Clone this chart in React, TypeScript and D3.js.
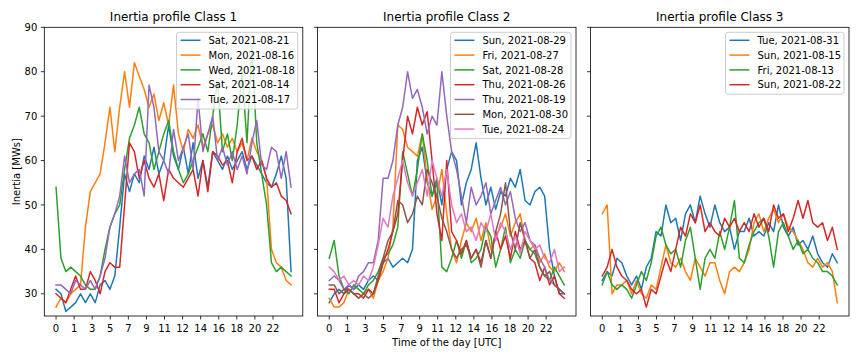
import React, { useEffect, useRef } from "react";
import * as d3 from "d3";

// sample times (hours of the day), one sample every half hour
const HOURS: number[] = d3.range(0, 24.001, 0.5);

// x tick labels (ticks are evenly spaced, 13 intervals over the day)
const TICK_LABELS = ["0", "1", "3", "5", "7", "9", "11", "12", "14", "16", "18", "20", "22"];
const Y_TICKS = [30, 40, 50, 60, 70, 80, 90];

const TITLES = ["Inertia profile Class 1", "Inertia profile Class 2", "Inertia profile Class 3"];

// ---- Class 1 ----
const c1Sat0821 = [31,30,26,27,28,30,28,30,28,32,33,31,34,45,57,53,57,55,61,58,63,57,60,68,61,58,63,57,64,56,60,54,62,60,58,61,58,60,62,58,61,59,57,55,54,57,61,56,35];
const c1Mon0816 = [27,29,28,30,31,32,45,53,55,57,64,72,62,72,80,72,82,79,76,72,75,69,73,68,77,66,62,67,65,68,63,66,68,64,66,63,65,62,64,60,65,62,60,56,40,37,36,33,32];
const c1Wed0818 = [54,38,35,36,35,34,32,31,31,34,40,45,48,50,58,65,68,72,66,64,58,62,66,69,62,58,55,57,60,63,66,62,70,78,62,66,60,68,80,64,86,64,57,50,37,35,36,35,34];
const c1Sat0814 = [30,29,28,31,34,31,31,35,33,30,35,37,36,36,50,64,62,56,60,56,54,57,51,58,56,55,54,56,58,52,60,53,62,61,59,60,55,62,65,60,61,58,60,56,54,55,52,51,48];
const c1Tue0817 = [32,32,31,30,33,32,31,33,31,34,38,45,48,52,61,55,57,58,52,77,72,62,60,57,67,60,63,66,58,74,62,66,70,60,63,59,62,58,61,57,64,69,59,58,63,62,56,62,54];

// ---- Class 2 ----
const c2Sun0829 = [28,30,31,30,32,31,32,31,33,34,33,37,38,36,37,38,37,40,60,63,55,52,56,50,58,62,60,50,55,58,64,56,50,54,49,53,52,56,54,58,51,50,53,54,52,40,34,30,30];
const c2Fri0827 = [29,27,27,28,31,30,29,30,31,29,33,35,38,45,68,67,63,62,61,66,56,49,52,58,48,40,37,42,46,44,47,42,46,40,43,45,48,43,46,48,42,40,41,37,39,36,35,37,35];
const c2Sat0828 = [38,42,34,31,30,32,31,30,32,33,35,38,39,41,45,62,57,52,58,66,60,52,55,36,35,38,42,38,42,37,38,40,45,43,36,40,45,37,40,38,42,40,39,36,34,33,36,34,32];
const c2Thu0826 = [31,31,28,30,31,30,30,29,31,30,33,37,40,44,48,60,70,66,72,68,71,60,48,42,60,44,42,39,42,38,40,37,42,38,44,40,43,38,44,40,42,38,37,33,36,32,34,30,29];
const c2Thu0819 = [33,34,33,31,32,31,34,35,37,37,42,56,56,60,68,72,80,74,76,72,66,70,68,80,70,62,58,52,46,54,50,52,55,48,51,54,50,53,47,44,46,42,41,38,36,33,32,31,30];
const c2Mon0830 = [32,32,30,31,31,30,29,30,29,30,34,38,42,44,51,50,46,48,52,50,58,55,52,47,44,40,38,40,41,38,40,36,42,38,44,48,55,44,40,46,42,38,40,36,34,35,32,31,30];
const c2Tue0824 = [36,35,33,34,32,33,32,34,33,36,41,47,45,52,56,60,55,52,55,58,52,60,56,52,58,50,46,48,44,45,42,46,44,48,42,46,44,40,43,39,44,42,40,41,38,37,40,35,36];

// ---- Class 3 ----
const c3Tue0831 = [33,35,34,38,37,34,32,34,31,36,38,44,43,50,46,47,42,48,50,46,52,48,45,50,46,44,45,40,44,44,47,43,44,43,46,44,50,45,43,45,41,42,40,43,39,37,36,39,37];
const c3Sun0815 = [48,50,30,32,32,33,30,33,30,29,32,31,36,41,37,36,38,35,33,38,36,34,37,37,33,30,35,36,35,37,40,46,48,44,47,49,46,48,45,44,42,40,37,36,38,36,37,35,28];
const c3Fri0813 = [32,35,32,31,32,31,29,32,35,33,37,43,45,41,39,40,36,42,45,38,31,38,40,38,44,40,45,51,38,37,41,44,46,47,43,36,44,46,43,40,42,39,40,38,37,35,35,34,32];
const c3Sun0822 = [34,36,40,36,34,33,31,30,31,27,31,30,34,38,35,40,45,43,48,46,50,44,46,44,43,47,45,47,44,46,44,48,45,47,44,50,47,48,44,47,51,47,51,46,45,46,42,45,40];

const CLASS1_LABELS = ["Sat, 2021-08-21", "Mon, 2021-08-16", "Wed, 2021-08-18", "Sat, 2021-08-14", "Tue, 2021-08-17"];
const CLASS2_LABELS = ["Sun, 2021-08-29", "Fri, 2021-08-27", "Sat, 2021-08-28", "Thu, 2021-08-26", "Thu, 2021-08-19", "Mon, 2021-08-30", "Tue, 2021-08-24"];
const CLASS3_LABELS = ["Tue, 2021-08-31", "Sun, 2021-08-15", "Fri, 2021-08-13", "Sun, 2021-08-22"];

const COLORS = ["#1f77b4", "#ff7f0e", "#2ca02c", "#d62728", "#9467bd", "#8c564b", "#e377c2"];

const PANELS = [
  { title: TITLES[0], labels: CLASS1_LABELS, series: [c1Sat0821, c1Mon0816, c1Wed0818, c1Sat0814, c1Tue0817] },
  { title: TITLES[1], labels: CLASS2_LABELS, series: [c2Sun0829, c2Fri0827, c2Sat0828, c2Thu0826, c2Thu0819, c2Mon0830, c2Tue0824] },
  { title: TITLES[2], labels: CLASS3_LABELS, series: [c3Tue0831, c3Sun0815, c3Fri0813, c3Sun0822] },
];

const W = 859;
const H = 358;
const TOP = 27.3;
const BOTTOM = 316;
const PANEL_LEFT = [44.3, 317.5, 590.5];
const PANEL_W = 258.5;
const FONT = "DejaVu Sans, sans-serif";

export default function App() {
  const ref = useRef<SVGSVGElement | null>(null);

  useEffect(() => {
    const svg = d3.select(ref.current);
    svg.selectAll("*").remove();
    svg.append("rect").attr("width", W).attr("height", H).attr("fill", "white");

    const y = d3.scaleLinear().domain([25, 90]).range([BOTTOM, TOP]);

    PANELS.forEach((panel, pi) => {
      const left = PANEL_LEFT[pi];
      const right = left + PANEL_W;
      const x = d3.scaleLinear().domain([-1.2, 25.2]).range([left, right]);
      const g = svg.append("g");

      // clip
      const clipId = `clip${pi}`;
      g.append("clipPath").attr("id", clipId)
        .append("rect").attr("x", left).attr("y", TOP).attr("width", PANEL_W).attr("height", BOTTOM - TOP);

      const line = d3.line<number>()
        .x((_, i) => x(HOURS[i]))
        .y((d) => y(d));

      const lines = g.append("g").attr("clip-path", `url(#${clipId})`);
      panel.series.forEach((s, si) => {
        lines.append("path")
          .attr("d", line(s) as string)
          .attr("fill", "none")
          .attr("stroke", COLORS[si])
          .attr("stroke-width", 1.5)
          .attr("stroke-linejoin", "round")
          .attr("stroke-linecap", "square");
      });

      // spines
      g.append("rect")
        .attr("x", left).attr("y", TOP)
        .attr("width", PANEL_W).attr("height", BOTTOM - TOP)
        .attr("fill", "none").attr("stroke", "black").attr("stroke-width", 0.8);

      // x ticks
      TICK_LABELS.forEach((lab, ti) => {
        const hx = x((ti * 24) / 13);
        g.append("line").attr("x1", hx).attr("x2", hx).attr("y1", BOTTOM).attr("y2", BOTTOM + 3.5)
          .attr("stroke", "black").attr("stroke-width", 0.8);
        g.append("text").attr("x", hx).attr("y", BOTTOM + 15.5)
          .attr("text-anchor", "middle").attr("font-family", FONT).attr("font-size", 10)
          .attr("fill", "black").text(lab);
      });

      // y ticks
      Y_TICKS.forEach((v) => {
        const yy = y(v);
        g.append("line").attr("x1", left - 3.5).attr("x2", left).attr("y1", yy).attr("y2", yy)
          .attr("stroke", "black").attr("stroke-width", 0.8);
        if (pi === 0) {
          g.append("text").attr("x", left - 7).attr("y", yy + 3.6)
            .attr("text-anchor", "end").attr("font-family", FONT).attr("font-size", 10)
            .attr("fill", "black").text(String(v));
        }
      });

      // title
      g.append("text").attr("x", left + PANEL_W / 2).attr("y", TOP - 6)
        .attr("text-anchor", "middle").attr("font-family", FONT).attr("font-size", 12)
        .attr("fill", "black").text(panel.title);

      // legend
      const n = panel.labels.length;
      const lg = g.append("g");
      const frame = lg.append("rect");
      const texts = panel.labels.map((lab, li) =>
        lg.append("text").attr("font-family", FONT).attr("font-size", 10).attr("fill", "black").text(lab)
      );
      const maxW = d3.max(texts, (t) => (t.node() as SVGTextElement).getComputedTextLength()) || 87;
      const boxW = 32 + maxW + 3;
      const boxRight = right - 5;
      const boxLeft = boxRight - boxW;
      const boxTop = TOP + 5;
      const boxH = 17.5 + (n - 1) * 14.8;
      frame.attr("x", boxLeft).attr("y", boxTop).attr("width", boxW).attr("height", boxH)
        .attr("rx", 2.5).attr("fill", "white").attr("fill-opacity", 0.8)
        .attr("stroke", "#cccccc").attr("stroke-width", 1);
      panel.labels.forEach((_, li) => {
        const cy = boxTop + 8 + li * 14.8;
        lg.append("line").attr("x1", boxLeft + 4).attr("x2", boxLeft + 24).attr("y1", cy).attr("y2", cy)
          .attr("stroke", COLORS[li]).attr("stroke-width", 1.5);
        texts[li].attr("x", boxLeft + 32).attr("y", cy + 3.6);
      });
    });

    // axis labels
    svg.append("text")
      .attr("transform", `translate(19.5, ${(TOP + BOTTOM) / 2}) rotate(-90)`)
      .attr("text-anchor", "middle").attr("font-family", FONT).attr("font-size", 10)
      .attr("fill", "black").text("Inertia [MWs]");
    svg.append("text")
      .attr("x", PANEL_LEFT[1] + PANEL_W / 2).attr("y", 345.5)
      .attr("text-anchor", "middle").attr("font-family", FONT).attr("font-size", 10)
      .attr("fill", "black").text("Time of the day [UTC]");
  }, []);

  return (
    <svg
      ref={ref}
      width={W}
      height={H}
      style={{ position: "absolute", left: 0, top: 0, display: "block" }}
    />
  );
}
